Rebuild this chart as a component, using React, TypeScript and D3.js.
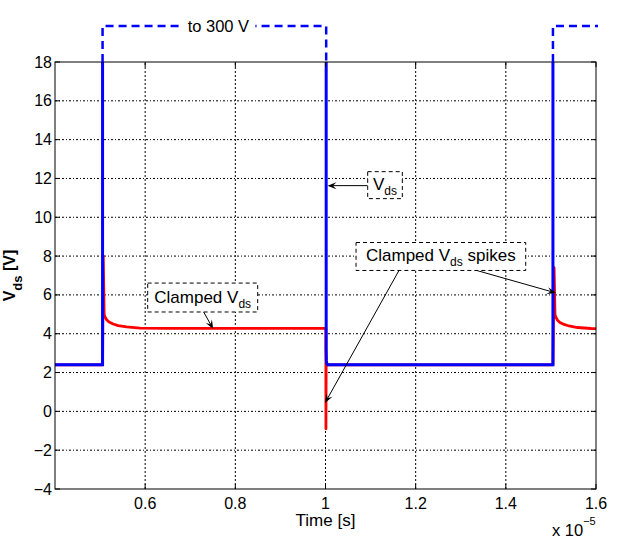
import { useEffect, useRef } from 'react'
import * as d3 from 'd3'

// axis ticks
const xTicks = [0.6, 0.8, 1, 1.2, 1.4, 1.6]
const yTicks = [-4, -2, 0, 2, 4, 6, 8, 10, 12, 14, 16, 18]

// unclamped Vds (blue) – leaves the scale on the way to 300 V
const blueTime = [0.4, 0.5055, 0.5055, 1.0015, 1.0015, 1.002, 1.003, 1.005, 1.5045, 1.5045, 1.6]
const blueVds = [2.4, 2.4, 300, 300, 3.2, 2.6, 2.45, 2.4, 2.4, 300, 300]

// clamped Vds (red)
const redTime = [
  0.4, 0.5055, 0.507, 0.509, 0.511, 0.5146, 0.52, 0.529, 0.54, 0.559, 0.589, 0.65,
  1.0008, 1.001, 1.0014, 1.5045, 1.507, 1.509, 1.511, 1.5146, 1.52, 1.529, 1.54, 1.559, 1.589, 1.6,
]
const redVds = [
  2.4, 2.4, 8.0, 5.0, 4.86, 4.72, 4.6, 4.5, 4.42, 4.35, 4.29, 4.28,
  4.28, -0.9, 2.4, 2.4, 7.4, 5.0, 4.85, 4.7, 4.58, 4.48, 4.4, 4.32, 4.27, 4.26,
]

// text boxes: [t0, v0, t1, v1] corners, arrows [fromT, fromV, toT, toV]
const notes = [
  { text: 'Clamped V', sub: 'ds', tail: '', box: [0.6056, 6.61, 0.8496, 5.12], arrows: [[0.729, 5.15, 0.751, 4.24]] },
  { text: 'V', sub: 'ds', tail: '', box: [1.0936, 12.35, 1.1704, 10.96], arrows: [[1.0936, 11.63, 1.0044, 11.63]] },
  {
    text: 'Clamped V', sub: 'ds', tail: ' spikes', box: [1.0677, 8.7, 1.4441, 7.26],
    arrows: [[1.163, 7.26, 0.9989, 0.43], [1.3354, 7.26, 1.5113, 6.1]],
  },
]

const font = '"Liberation Sans", Arial, Helvetica, sans-serif'

export default function App() {
  const svgRef = useRef<SVGSVGElement>(null)

  useEffect(() => {
    if (!svgRef.current) return
    const svg = d3.select(svgRef.current)
    svg.selectAll('*').remove()

    const margin = { top: 62, left: 55 }
    const innerW = 541
    const innerH = 427

    const x = d3.scaleLinear().domain([0.4, 1.6]).range([margin.left, margin.left + innerW])
    const y = d3.scaleLinear().domain([-4, 18]).range([margin.top + innerH, margin.top])

    svg.append('rect').attr('width', 636).attr('height', 542).attr('fill', '#fff')

    // grid
    const grid = svg.append('g').attr('stroke', '#000').attr('stroke-width', 1)
    yTicks.slice(1, -1).forEach(v => {
      grid.append('line')
        .attr('x1', x(0.4)).attr('x2', x(1.6))
        .attr('y1', y(v)).attr('y2', y(v))
        .attr('stroke-dasharray', '2,2,1,2')
    })
    xTicks.slice(0, -1).forEach(t => {
      grid.append('line')
        .attr('x1', x(t)).attr('x2', x(t))
        .attr('y1', y(-4)).attr('y2', y(18))
        .attr('stroke-dasharray', '2,2')
    })

    // traces
    const defs = svg.append('defs')
    defs.append('clipPath').attr('id', 'plot-clip')
      .append('rect')
      .attr('x', x(0.4)).attr('y', y(18))
      .attr('width', innerW).attr('height', innerH)

    const plot = svg.append('g').attr('clip-path', 'url(#plot-clip)')

    const redLine = d3.line<number>().x((_, i) => x(redTime[i])).y(d => y(d))
    const blueLine = d3.line<number>().x((_, i) => x(blueTime[i])).y(d => y(d))

    plot.append('path')
      .attr('d', redLine(redVds))
      .attr('fill', 'none')
      .attr('stroke', '#ff0000')
      .attr('stroke-width', 2.8)
      .attr('stroke-linejoin', 'round')

    plot.append('path')
      .attr('d', blueLine(blueVds))
      .attr('fill', 'none')
      .attr('stroke', '#0000ff')
      .attr('stroke-width', 3)
      .attr('stroke-linejoin', 'miter')

    // box + ticks
    svg.append('rect')
      .attr('x', x(0.4)).attr('y', y(18))
      .attr('width', innerW).attr('height', innerH)
      .attr('fill', 'none').attr('stroke', '#000').attr('stroke-width', 1)

    const ticks = svg.append('g').attr('stroke', '#000').attr('stroke-width', 1)
    const tl = 5
    yTicks.forEach(v => {
      ticks.append('line').attr('x1', x(0.4)).attr('x2', x(0.4) + tl).attr('y1', y(v)).attr('y2', y(v))
      ticks.append('line').attr('x1', x(1.6)).attr('x2', x(1.6) - tl).attr('y1', y(v)).attr('y2', y(v))
    })
    xTicks.forEach(t => {
      ticks.append('line').attr('x1', x(t)).attr('x2', x(t)).attr('y1', y(-4)).attr('y2', y(-4) - tl)
      ticks.append('line').attr('x1', x(t)).attr('x2', x(t)).attr('y1', y(18)).attr('y2', y(18) + tl)
    })

    const labels = svg.append('g').attr('font-family', font).attr('font-size', 16).attr('fill', '#000')
    yTicks.forEach(v => {
      labels.append('text')
        .attr('x', x(0.4) - 3).attr('y', y(v) + 5.5)
        .attr('text-anchor', 'end')
        .text(d3.format('')(v).replace('-', '\u2212'))
    })
    xTicks.forEach(t => {
      labels.append('text')
        .attr('x', x(t)).attr('y', y(-4) + 20)
        .attr('text-anchor', 'middle')
        .text(String(t))
    })

    labels.append('text')
      .attr('x', (x(0.4) + x(1.6)) / 2).attr('y', y(-4) + 37)
      .attr('text-anchor', 'middle')
      .attr('font-size', 17)
      .text('Time [s]')

    const exp = labels.append('text').attr('x', x(1.6) - 44).attr('y', y(-4) + 47).attr('font-size', 16.5)
    exp.append('tspan').text('x 10')
    exp.append('tspan').attr('font-size', 11).attr('dy', -11).text('\u22125')

    const yl = labels.append('text')
      .attr('transform', `translate(15,${(y(-4) + y(18)) / 2}) rotate(-90)`)
      .attr('text-anchor', 'middle')
      .attr('font-weight', 'bold')
    yl.append('tspan').text('V')
    yl.append('tspan').attr('font-size', 13).attr('dy', 7).text('ds')
    yl.append('tspan').attr('dy', -7).text(' [V]')

    // "to 300 V" off-scale marker
    const topY = 26
    const off = svg.append('g')
    off.append('path')
      .attr('d', `M${x(0.5055)},${y(18)}V${topY}H${x(1.0015)}V${y(18)}M${x(1.5045)},${y(18)}V${topY}H${x(1.6) + 2}`)
      .attr('fill', 'none').attr('stroke', '#0000ff').attr('stroke-width', 2.5)
      .attr('stroke-dasharray', '8,5')
    const midX = (x(0.5055) + x(1.0015)) / 2 + 4
    off.append('rect').attr('x', midX - 37).attr('y', topY - 8).attr('width', 74).attr('height', 16).attr('fill', '#fff')
    off.append('text')
      .attr('x', midX).attr('y', topY + 6)
      .attr('text-anchor', 'middle')
      .attr('font-family', font).attr('font-size', 16.5)
      .text('to 300 V')

    // annotations
    const ann = svg.append('g')
    notes.forEach(n => {
      const [t0, v0, t1, v1] = n.box
      n.arrows.forEach(([ft, fv, tt, tv]) => {
        const x1 = x(ft), y1 = y(fv), x2 = x(tt), y2 = y(tv)
        const a = Math.atan2(y2 - y1, x2 - x1)
        const len = 9, w = 3.5
        const bx = x2 - len * Math.cos(a), by = y2 - len * Math.sin(a)
        const nx = -Math.sin(a), ny = Math.cos(a)
        const kx = x2 - len * 0.6 * Math.cos(a), ky = y2 - len * 0.6 * Math.sin(a)
        ann.append('line')
          .attr('x1', x1).attr('y1', y1).attr('x2', kx).attr('y2', ky)
          .attr('stroke', '#000').attr('stroke-width', 1)
        ann.append('path')
          .attr('d', `M${x2},${y2}L${bx + nx * w},${by + ny * w}L${kx},${ky}L${bx - nx * w},${by - ny * w}Z`)
          .attr('fill', '#000')
      })
      ann.append('rect')
        .attr('x', x(t0)).attr('y', y(v0))
        .attr('width', x(t1) - x(t0)).attr('height', y(v1) - y(v0))
        .attr('fill', '#fff').attr('stroke', '#000').attr('stroke-width', 1)
        .attr('stroke-dasharray', '4,3')
      const txt = ann.append('text')
        .attr('x', (x(t0) + x(t1)) / 2).attr('y', (y(v0) + y(v1)) / 2 + 5)
        .attr('text-anchor', 'middle')
        .attr('font-family', font).attr('font-size', 17)
      txt.append('tspan').text(n.text)
      txt.append('tspan').attr('font-size', 12).attr('dy', 5).text(n.sub)
      if (n.tail) txt.append('tspan').attr('dy', -5).text(n.tail)
    })
  }, [])

  return (
    <svg
      ref={svgRef}
      width={636}
      height={542}
      style={{ position: 'absolute', left: 0, top: 0 }}
    />
  )
}
